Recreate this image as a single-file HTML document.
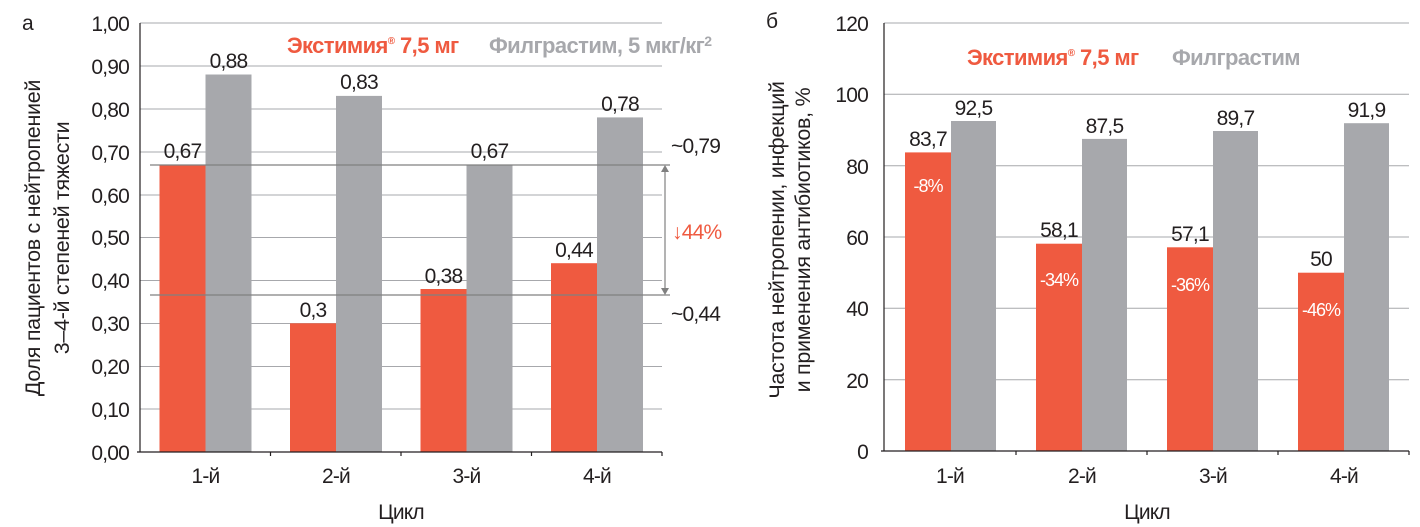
<!DOCTYPE html>
<html><head><meta charset="utf-8"><style>
html,body{margin:0;padding:0;background:#fff;}
svg{display:block;}
text{font-family:"Liberation Sans",sans-serif;fill:#231f20;}
.v text{font-size:21px;letter-spacing:-0.8px;text-anchor:middle;}
.y text{font-size:21px;letter-spacing:-0.8px;text-anchor:end;}
.lg{font-size:22px;font-weight:bold;letter-spacing:-0.6px;}
.w text{fill:#fff;font-size:18px;text-anchor:middle;letter-spacing:-1px;}
.tt text{font-size:21.5px;letter-spacing:-0.3px;text-anchor:middle;}
</style></head><body>
<svg width="1420" height="527" viewBox="0 0 1420 527" xmlns="http://www.w3.org/2000/svg">
<!-- LEFT CHART -->
<text x="22" y="30" style="font-size:21px">а</text>
<g stroke="#a7a8ac" stroke-width="1">
<line x1="140" x2="662" y1="23" y2="23"/><line x1="140" x2="662" y1="66" y2="66"/>
<line x1="140" x2="662" y1="109" y2="109"/><line x1="140" x2="662" y1="152" y2="152"/>
<line x1="140" x2="662" y1="195" y2="195"/><line x1="140" x2="662" y1="237.5" y2="237.5"/>
<line x1="140" x2="662" y1="280.5" y2="280.5"/><line x1="140" x2="662" y1="323.5" y2="323.5"/>
<line x1="140" x2="662" y1="366.5" y2="366.5"/><line x1="140" x2="662" y1="409" y2="409"/>
</g>
<g class="y">
<text x="129" y="31">1,00</text><text x="129" y="74">0,90</text><text x="129" y="117">0,80</text>
<text x="129" y="160">0,70</text><text x="129" y="203">0,60</text><text x="129" y="245">0,50</text>
<text x="129" y="288">0,40</text><text x="129" y="331">0,30</text><text x="129" y="374">0,20</text>
<text x="129" y="417">0,10</text><text x="129" y="460">0,00</text>
</g>
<g fill="#ef5a40">
<rect x="159.5" y="164.6" width="46" height="287.4"/><rect x="290" y="323.3" width="46" height="128.7"/>
<rect x="420.5" y="289" width="46" height="163"/><rect x="551" y="263.2" width="46" height="188.8"/>
</g>
<g fill="#a7a8ac">
<rect x="205.5" y="74.5" width="46" height="377.5"/><rect x="336" y="95.9" width="46" height="356.1"/>
<rect x="466.5" y="164.6" width="46" height="287.4"/><rect x="597" y="117.4" width="46" height="334.6"/>
</g>
<g stroke="#231f20" stroke-width="1.2">
<line x1="140" y1="23" x2="140" y2="452"/><line x1="137" y1="452" x2="662" y2="452"/>
<line x1="270.5" y1="452" x2="270.5" y2="456"/><line x1="401" y1="452" x2="401" y2="456"/>
<line x1="531.5" y1="452" x2="531.5" y2="456"/><line x1="662" y1="452" x2="662" y2="456"/>
</g>
<g stroke="#808080" stroke-width="1.2">
<line x1="150" y1="165" x2="670" y2="165"/><line x1="150" y1="295" x2="670" y2="295"/>
<line x1="665" y1="170" x2="665" y2="290"/>
</g>
<polygon points="665,165 661,172 669,172" fill="#808080"/>
<polygon points="665,295 661,288 669,288" fill="#808080"/>
<text x="671" y="153" style="font-size:21px;letter-spacing:-0.8px">~0,79</text>
<text x="671" y="321" style="font-size:21px;letter-spacing:-0.8px">~0,44</text>
<text x="672" y="239" style="font-size:21px;letter-spacing:-0.8px;fill:#ef5a40">↓44%</text>
<g class="v">
<text x="182.5" y="158">0,67</text><text x="228.5" y="68">0,88</text>
<text x="313" y="317">0,3</text><text x="359" y="89">0,83</text>
<text x="443.5" y="283">0,38</text><text x="489.5" y="158">0,67</text>
<text x="574" y="257">0,44</text><text x="620" y="111">0,78</text>
</g>
<g class="v">
<text x="205.5" y="483">1-й</text><text x="336" y="483">2-й</text><text x="466.5" y="483">3-й</text><text x="597" y="483">4-й</text>
<text x="401" y="519">Цикл</text>
</g>
<text class="lg" x="287" y="53" style="fill:#ef5a40">Экстимия<tspan dy="-9" style="font-size:10px">®</tspan><tspan dy="9"> 7,5 мг</tspan></text>
<text class="lg" x="489" y="53" style="fill:#a7a8ac">Филграстим, 5 мкг/кг<tspan dy="-7" style="font-size:14px">2</tspan></text>
<g class="tt">
<text transform="translate(40,238) rotate(-90)">Доля пациентов с нейтропенией</text>
<text transform="translate(69,238) rotate(-90)">3–4-й степеней тяжести</text>
</g>

<!-- RIGHT CHART -->
<text x="766" y="28" style="font-size:21px">б</text>
<g stroke="#a7a8ac" stroke-width="1">
<line x1="884" x2="1409" y1="23" y2="23"/><line x1="884" x2="1409" y1="94.3" y2="94.3"/>
<line x1="884" x2="1409" y1="165.7" y2="165.7"/><line x1="884" x2="1409" y1="237" y2="237"/>
<line x1="884" x2="1409" y1="308.3" y2="308.3"/><line x1="884" x2="1409" y1="379.7" y2="379.7"/>
</g>
<g class="y">
<text x="868" y="31">120</text><text x="868" y="102">100</text><text x="868" y="174">80</text>
<text x="868" y="245">60</text><text x="868" y="316">40</text><text x="868" y="388">20</text><text x="868" y="459">0</text>
</g>
<g fill="#ef5a40">
<rect x="905" y="152.4" width="46" height="298.6"/><rect x="1036" y="243.7" width="46" height="207.3"/>
<rect x="1167" y="247.3" width="46" height="203.7"/><rect x="1298" y="272.7" width="46" height="178.3"/>
</g>
<g fill="#a7a8ac">
<rect x="951" y="121" width="45" height="330"/><rect x="1082" y="138.9" width="45" height="312.1"/>
<rect x="1213" y="131" width="45" height="320"/><rect x="1344" y="123.2" width="45" height="327.8"/>
</g>
<g stroke="#231f20" stroke-width="1.2">
<line x1="884" y1="23" x2="884" y2="451"/><line x1="881" y1="451" x2="1409" y2="451"/>
<line x1="1016" y1="451" x2="1016" y2="455"/><line x1="1147" y1="451" x2="1147" y2="455"/>
<line x1="1278" y1="451" x2="1278" y2="455"/><line x1="1409" y1="451" x2="1409" y2="455"/>
</g>
<g class="v">
<text x="928" y="146">83,7</text><text x="973.5" y="115">92,5</text>
<text x="1059" y="237">58,1</text><text x="1104.5" y="133">87,5</text>
<text x="1190" y="241">57,1</text><text x="1235.5" y="125">89,7</text>
<text x="1321" y="266">50</text><text x="1366.5" y="117">91,9</text>
</g>
<g class="w">
<text x="928" y="192">-8%</text><text x="1059" y="286">-34%</text>
<text x="1190" y="291">-36%</text><text x="1321" y="316">-46%</text>
</g>
<g class="v">
<text x="950" y="483">1-й</text><text x="1082" y="483">2-й</text><text x="1213" y="483">3-й</text><text x="1344" y="483">4-й</text>
<text x="1147" y="519">Цикл</text>
</g>
<text class="lg" x="967" y="65" style="fill:#ef5a40">Экстимия<tspan dy="-9" style="font-size:10px">®</tspan><tspan dy="9"> 7,5 мг</tspan></text>
<text class="lg" x="1172" y="65" style="fill:#a7a8ac">Филграстим</text>
<g class="tt">
<text transform="translate(784,240) rotate(-90)">Частота нейтропении, инфекций</text>
<text transform="translate(810,240) rotate(-90)">и применения антибиотиков, %</text>
</g>
</svg>
</body></html>
